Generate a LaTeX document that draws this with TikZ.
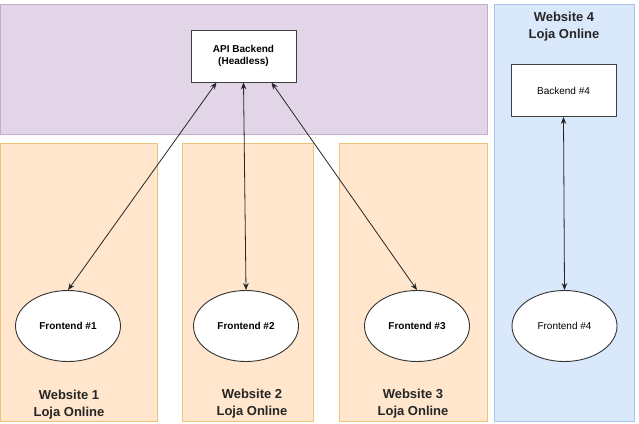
\documentclass[tikz,border=0pt]{standalone}
\usepackage{fontspec}
\setmainfont{Liberation Sans}
\usetikzlibrary{shapes.geometric,arrows.meta}
\definecolor{lila}{HTML}{E1D5E7}
\definecolor{lilarand}{HTML}{C3ABD0}
\definecolor{orange}{HTML}{FFE6CC}
\definecolor{orangerand}{HTML}{EBC277}
\definecolor{blau}{HTML}{DAE8FC}
\definecolor{blaurand}{HTML}{A9C4EB}
\tikzset{
  backend/.style={draw=black!75, line width=0.9pt, fill=white, minimum width=105pt, minimum height=52pt, font=\fontsize{10}{12}\selectfont, align=center},
  frontend/.style={draw=black!80, line width=0.9pt, fill=white, ellipse, minimum width=105pt, minimum height=71pt, font=\fontsize{10}{12}\selectfont},
  titel/.style={font=\bfseries\fontsize{13}{17}\selectfont, align=center, text=black!85},
  verbindung/.style={{Stealth[length=7pt,width=5.5pt]}-{Stealth[length=7pt,width=5.5pt]}, line width=0.8pt, black!85}
}
\begin{document}
\begin{tikzpicture}[x=1pt,y=-1pt]
	 \useasboundingbox (0,0) rectangle (639,423);
	 % Der gemeinsame Backend-Bereich:
	 \draw[fill=lila, draw=lilarand, line width=0.8pt] (0,4) rectangle (487,134);
	 % Die drei Shops mit gemeinsamem Backend:
	 \foreach \xa/\xb in {0/157,182/313,339/487}
	 \draw[fill=orange, draw=orangerand, line width=0.8pt] (\xa,143) rectangle (\xb,421);
	 % Der eigenstaendige Shop:
	 \draw[fill=blau, draw=blaurand, line width=0.8pt] (494,4) rectangle (634,421);
	 % Beschriftungen der Shops:
	 \node[titel] (web1) at (69,405) {Website 1\\Loja Online};
	 \node[titel] (web2) at (252,404) {Website 2\\Loja Online};
	 \node[titel] (web3) at (413,404) {Website 3\\Loja Online};
	 \node[titel] (web4) at (564,27) {Website 4\\Loja Online};
	 % Backends:
	 \node[backend, font=\bfseries\fontsize{10}{12}\selectfont] (api) at (243.5,56) {API Backend\\(Headless)};
	 \node[backend] (back4) at (563.5,90.5) {Backend \#4};
	 % Frontends:
	 \foreach \name/\x/\nr in {front1/68/1,front2/246/2,front3/417/3}
	 \node[frontend, font=\bfseries\fontsize{10}{12}\selectfont] (\name) at (\x,326) {Frontend \#\nr};
	 \node[frontend] (front4) at (564.5,326) {Frontend \#4};
	 % Verbindungen:
	 \draw[verbindung] ([xshift=-27pt]api.south) -- (front1.north);
	 \draw[verbindung] ([xshift=0pt]api.south) -- (front2.north);
	 \draw[verbindung] ([xshift=28pt]api.south) -- (front3.north);
	 \draw[verbindung] (back4.south) -- (front4.north);
\end{tikzpicture}
\end{document}
